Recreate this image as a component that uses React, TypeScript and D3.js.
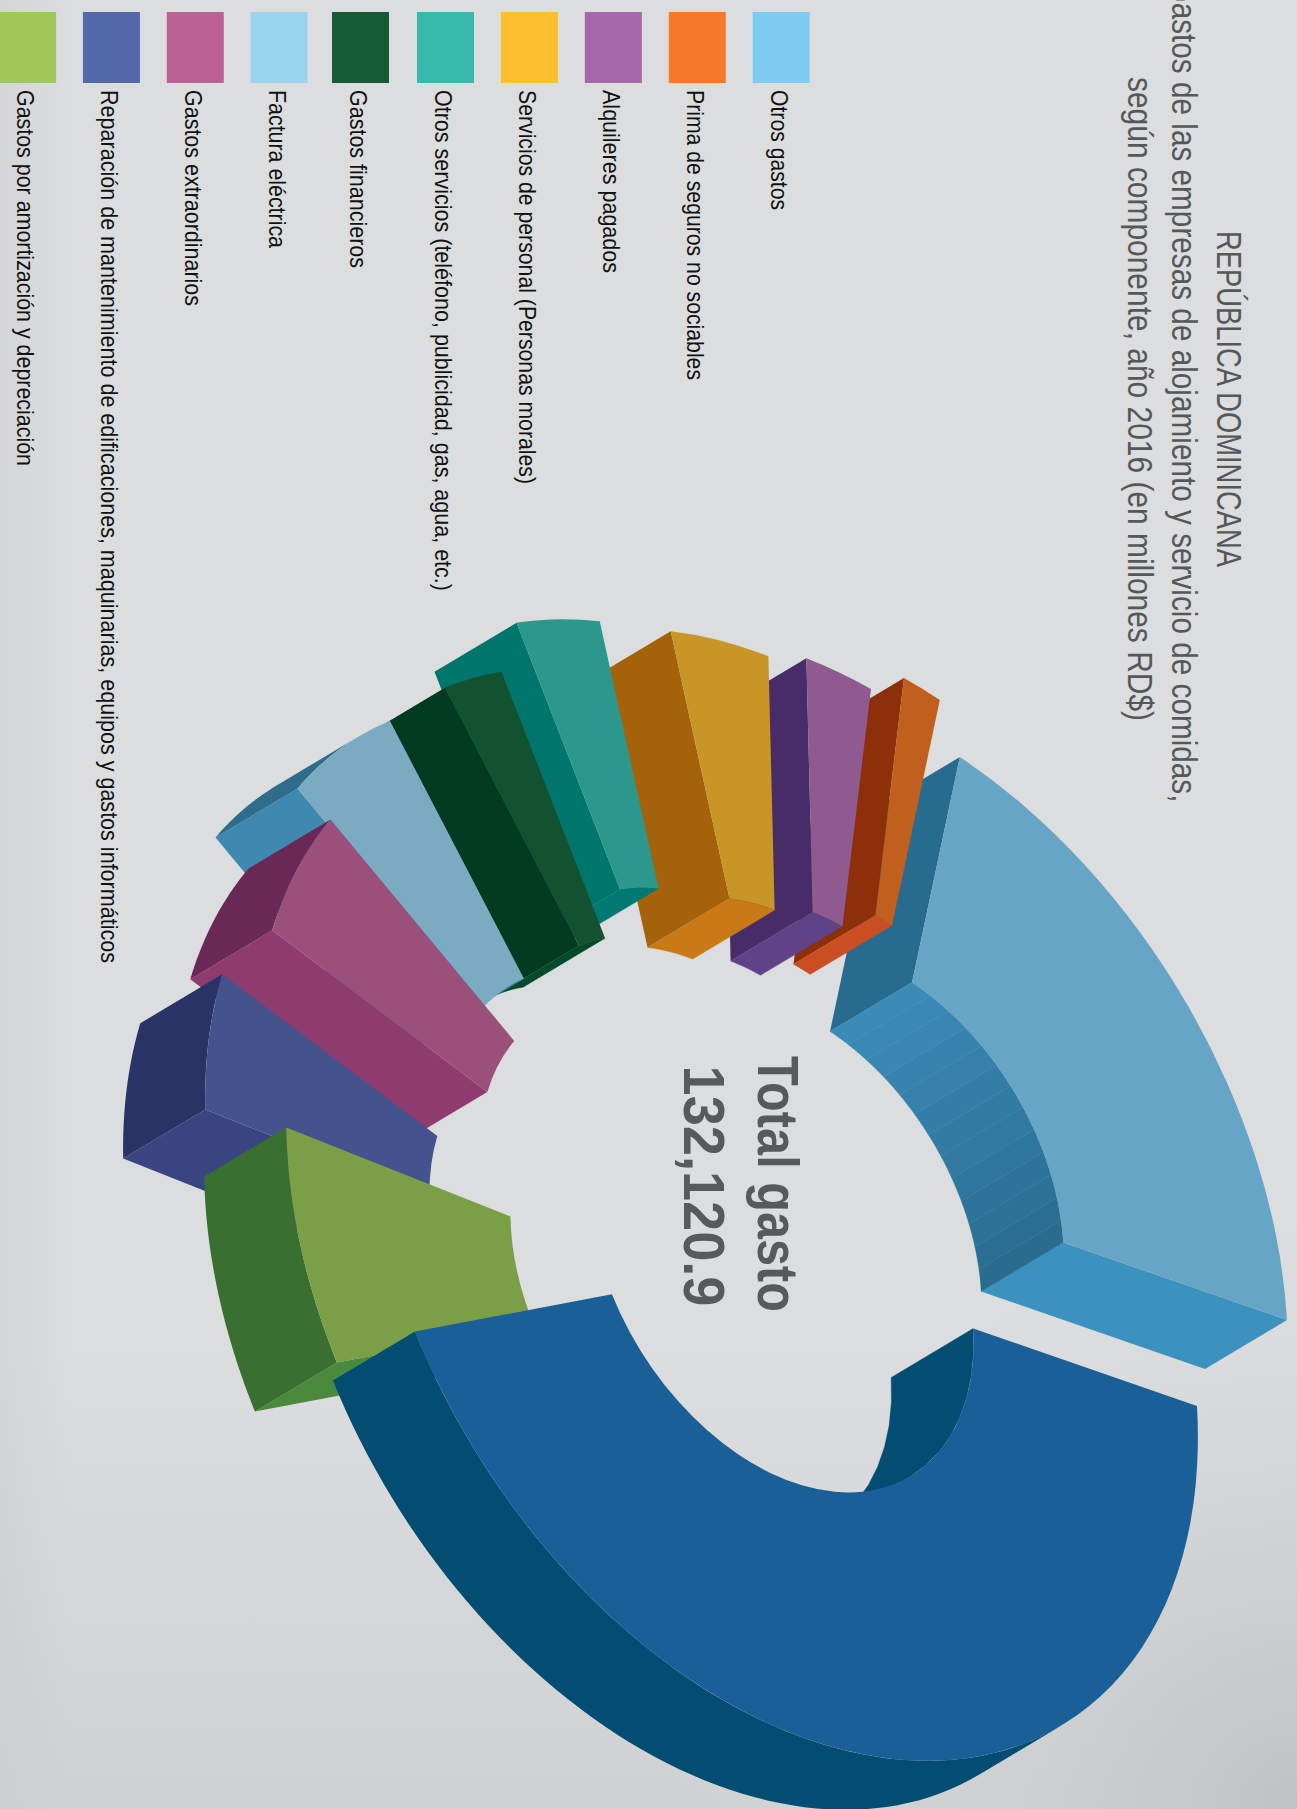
import React from 'react';
import * as d3 from 'd3';

// ---------- data (millones RD$) ----------
const total = 132120.9;
const otrosGastos = 27122;
const primaSeguros = 1835;
const alquileres = 3266;
const serviciosPersonal = 4991;
const otrosServicios = 4514;
const gastosFinancieros = 3376;
const facturaElectrica = 6716;
const gastosExtraordinarios = 6790;
const reparacion = 6496;
const amortizacion = 10056;
const sinLeyenda = 56958; // large slice: its legend entry lies outside the page

const sliceValues = [otrosGastos, primaSeguros, alquileres, serviciosPersonal, otrosServicios,
  gastosFinancieros, facturaElectrica, gastosExtraordinarios, reparacion, amortizacion, sinLeyenda];

const legendLabels = [
  'Otros gastos', 'Prima de seguros no sociables', 'Alquileres pagados',
  'Servicios de personal (Personas morales)',
  'Otros servicios (teléfono, publicidad, gas, agua, etc.)',
  'Gastos financieros', 'Factura eléctrica', 'Gastos extraordinarios',
  'Reparación de mantenimiento de edificaciones, maquinarias, equipos y gastos informáticos',
  'Gastos por amortización y depreciación',
];
const legendColors = ['#7ecbf1', '#f6782a', '#a569a9', '#ffbd30', '#38b8aa', '#175a36', '#9ad4ee', '#bd6194', '#5469aa', '#9fc859'];
const titleLines = ['REPÚBLICA DOMINICANA', 'Gastos de las empresas de alojamiento y servicio de comidas,', 'según componente, año 2016 (en millones RD$)'];

// ---------- face colours, per slice ----------
const topColors = ['#66a5c5', '#c1601e', '#8e5a90', '#c89627', '#2c978c', '#135231', '#7babc0', '#9a507b', '#44538d', '#7b9f46', '#1b5f99'];
const endWallColors = ['#276b8f', '#8d300a', '#482c68', '#a4630b', '#00756b', '#003a20', '#3f89b0', '#8e3b70', '#384581', '#498a3c', '#034d72'];
const startWallColors = ['#3c92be', '#c94e22', '#604289', '#c97916', '#007a70', '#014a2c', '#3f89b0', '#8e3b70', '#384581', '#498a3c', '#034d72'];
const innerFrom = ['#296a8e', '#c94e22', '#604289', '#c97916', '#007a70', '#014a2c', '#3f89b0', '#8e3b70', '#384581', '#498a3c', '#034d72'];
const innerTo = ['#3b8db9', '#c94e22', '#604289', '#c97916', '#007a70', '#014a2c', '#3f89b0', '#8e3b70', '#384581', '#498a3c', '#034d72'];
const outerColors = ['#276b8f', '#8d300a', '#482c68', '#a4630b', '#00756b', '#003a20', '#2e6c8c', '#692855', '#2a3366', '#396f31', '#034d72'];

// ---------- projection of the tilted, turned ring ----------
const U: [number, number] = [416, 144];
const V: [number, number] = [-27.6, -477.6];
const E: [number, number] = [-82, 49];
const innerRatio = 0.462;
const center: [number, number] = [773, 1229];
// how far each slice is pulled out of the ring (page pixels)
const explode: [number, number][] = [[98, -53], [78, -110], [45, -99], [7, -101], [-64, -111], [-79, -62], [-134, -29], [-101, 2], [-151, 46], [-70, 64], [8, 33]];

const WIDTH = 1297;
const HEIGHT = 1809;
const ARC_R = 1000;

const project = (theta: number, r: number, o: [number, number]): [number, number] => [
  o[0] + r * (U[0] * Math.cos(theta) + V[0] * Math.sin(theta)),
  o[1] + r * (U[1] * Math.cos(theta) + V[1] * Math.sin(theta)),
];
const det = U[0] * V[1] - U[1] * V[0];
const eu = (E[0] * V[1] - E[1] * V[0]) / det;
const ev = (U[0] * E[1] - U[1] * E[0]) / det;
const eAngle = Math.atan2(ev, eu); // direction of depth in the ring's plane
const TAU = Math.PI * 2;

const polygon = d3.line<[number, number]>().x(d => d[0]).y(d => d[1]);
const shift = (p: [number, number]): [number, number] => [p[0] + E[0], p[1] + E[1]];

function overlap(a: number, b: number, lo: number, hi: number): [number, number] | null {
  for (const k of [-1, 0, 1]) {
    const s = Math.max(a, lo + k * TAU);
    const t = Math.min(b, hi + k * TAU);
    if (t > s) return [s, t];
  }
  return null;
}

// a curved wall as one polygon
function wall(a: number, b: number, r: number, o: [number, number], n: number) {
  const t = d3.scaleLinear().domain([0, n]).range([a, b]);
  const rim = d3.range(n + 1).map(i => project(t(i), r, o));
  return polygon([...rim, ...rim.slice().reverse().map(shift)]) + 'Z';
}

function Slice({ arc, i }: { arc: d3.PieArcDatum<number>; i: number }) {
  const a = arc.startAngle, b = arc.endAngle;
  const o: [number, number] = [center[0] + explode[i][0], center[1] + explode[i][1]];
  const topPath = d3.arc<any>().innerRadius(ARC_R * innerRatio).outerRadius(ARC_R)(arc) as string;
  const matrix = `matrix(${V[0] / ARC_R} ${V[1] / ARC_R} ${-U[0] / ARC_R} ${-U[1] / ARC_R} ${o[0]} ${o[1]})`;
  const rayWall = (t: number) => {
    const p = project(t, innerRatio, o), q = project(t, 1, o);
    return polygon([p, q, shift(q), shift(p)]) + 'Z';
  };
  const startVisible = Math.cos(eAngle - (a + Math.PI / 2)) < 0;
  const endVisible = Math.cos(eAngle - (b - Math.PI / 2)) < 0;
  const outer = overlap(a, b, eAngle - Math.PI / 2, eAngle + Math.PI / 2);
  const inner = overlap(a, b, eAngle + Math.PI / 2, eAngle + 1.5 * Math.PI);
  const shade = d3.scaleLinear<string>().domain([0, 1]).range([innerFrom[i], innerTo[i]]).interpolate(d3.interpolateRgb);
  const banded = innerFrom[i] !== innerTo[i];
  const nBands = banded && inner ? Math.round((inner[1] - inner[0]) / (TAU / 64)) : 1;
  const bandAt = inner ? d3.scaleLinear().domain([0, nBands]).range([inner[0], inner[1]]) : null;
  return (
    <g>
      {startVisible && <path d={rayWall(a)} fill={startWallColors[i]} />}
      {endVisible && <path d={rayWall(b)} fill={endWallColors[i]} />}
      {outer && <path d={wall(outer[0], outer[1], 1, o, 60)} fill={outerColors[i]} />}
      {inner && bandAt && d3.range(nBands).map(k => {
        const c = shade(((bandAt(k) + bandAt(k + 1)) / 2 - a) / (b - a));
        return <path key={k} d={wall(bandAt(k), bandAt(k + 1), innerRatio, o, 8)} fill={c} stroke={c} strokeWidth={0.4} />;
      })}
      <path d={topPath} transform={matrix} fill={topColors[i]} />
    </g>
  );
}

export default function App() {
  const pie = d3.pie<number>().sort(null).startAngle(0).endAngle(TAU).value(d => d);
  const arcs = pie(sliceValues);
  const legendX = d3.scaleLinear().domain([0, 4, 5, 6, 9]).range([752.7, 417, 332, 250.6, -0.9]);
  const narrow = '"Liberation Sans Narrow", "Liberation Sans", sans-serif';
  const titleBaseX = [1217, 1172, 1128];
  const titleMidY = [399, 391, 399];
  const titleLengths = [336, 823, 644];
  const legendLengths = [120, 290, 183, 394, 501, 178, 158, 216, 873, 376];
  return (
    <svg width={WIDTH} height={HEIGHT} viewBox={`0 0 ${WIDTH} ${HEIGHT}`}
      style={{ position: 'absolute', left: 0, top: 0, display: 'block' }}>
      <defs>
        <radialGradient id="bgShade" gradientUnits="userSpaceOnUse" cx={1297} cy={1809} r={620}>
          <stop offset="0" stopColor="#bfc0c2" stopOpacity={0.9} />
          <stop offset="1" stopColor="#dcddde" stopOpacity={0} />
        </radialGradient>
        <linearGradient id="bgBottom" gradientUnits="userSpaceOnUse" x1="0" x2="0" y1="1350" y2="1809">
          <stop offset="0" stopColor="#cbccce" stopOpacity={0} />
          <stop offset="1" stopColor="#cbccce" stopOpacity={0.7} />
        </linearGradient>
        <linearGradient id="bgLeft" gradientUnits="userSpaceOnUse" x1="0" x2="70" y1="0" y2="0">
          <stop offset="0" stopColor="#c8c9cc" stopOpacity={0.4} />
          <stop offset="1" stopColor="#c8c9cc" stopOpacity={0} />
        </linearGradient>
      </defs>
      <rect width={WIDTH} height={HEIGHT} fill="#dcddde" />
      <rect width={WIDTH} height={HEIGHT} fill="url(#bgBottom)" />
      <rect width={WIDTH} height={HEIGHT} fill="url(#bgLeft)" />
      <rect width={WIDTH} height={HEIGHT} fill="url(#bgShade)" />

      {arcs.map((arc, i) => <Slice key={i} arc={arc} i={i} />)}

      {legendLabels.map((label, i) => (
        <g key={label}>
          <rect x={legendX(i)} y={12} width={57} height={71} fill={legendColors[i]} />
          <text transform={`translate(${legendX(i) + 18},90) rotate(90)`}
            textLength={legendLengths[i]} lengthAdjust="spacingAndGlyphs"
            fontFamily={narrow} fontSize={24} fill="#111">{label}</text>
        </g>
      ))}

      {titleLines.map((line, i) => (
        <text key={i} transform={`translate(${titleBaseX[i]},${titleMidY[i]}) rotate(90)`} textAnchor="middle"
          textLength={titleLengths[i]} lengthAdjust="spacingAndGlyphs"
          fontFamily={narrow} fontSize={35} fill="#55585b">{line}</text>
      ))}

      <text transform="translate(758,1184) rotate(90)" textAnchor="middle" textLength={256} lengthAdjust="spacingAndGlyphs"
        fontFamily={narrow} fontWeight={700} fontSize={58} fill="#58595b">Total gasto</text>
      <text transform="translate(684,1186) rotate(90)" textAnchor="middle" textLength={241} lengthAdjust="spacingAndGlyphs"
        fontFamily={narrow} fontWeight={700} fontSize={58} fill="#58595b">{d3.format(',.1f')(total)}</text>
    </svg>
  );
}
